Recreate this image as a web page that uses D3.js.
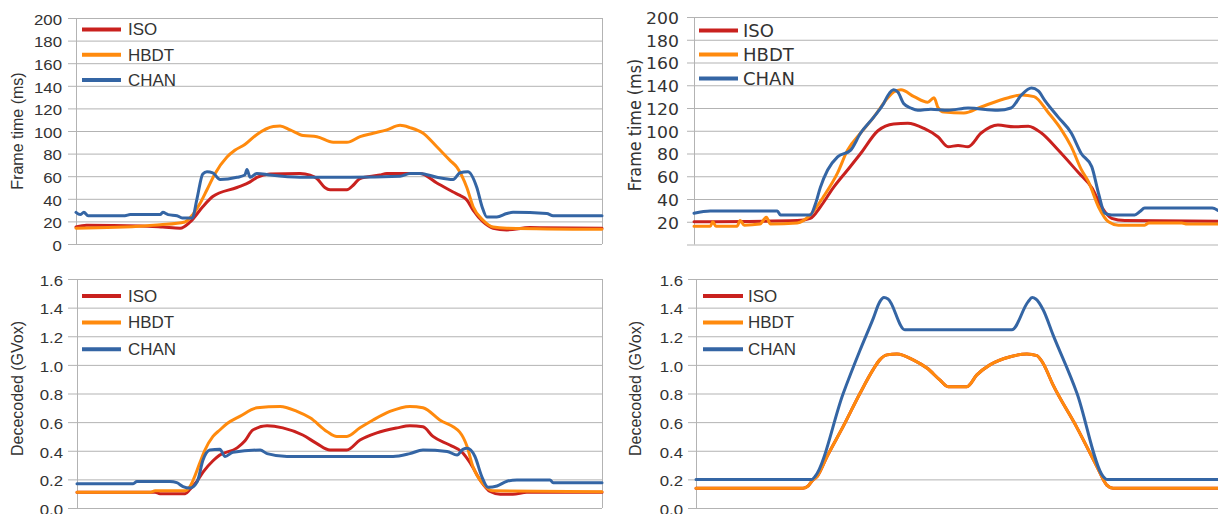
<!DOCTYPE html>
<html>
<head>
<meta charset="utf-8">
<script src="https://cdn.jsdelivr.net/npm/d3@7.9.0/dist/d3.min.js"></script>
<style>
  html, body { margin: 0; padding: 0; background: #fff; }
  svg { display: block; }
</style>
</head>
<body>
<svg id="chart" width="1218" height="514"></svg>
<script>
// ── Data: [progress through the run (%), value] ─────────────────────────────

const seriesNames = ['ISO', 'HBDT', 'CHAN'];
const seriesColors = ['#c9211e', '#ff8a0d', '#3465a4'];

const frameTicks = [0, 20, 40, 60, 80, 100, 120, 140, 160, 180, 200];
const decodedTicks = [0, 0.2, 0.4, 0.6, 0.8, 1.0, 1.2, 1.4, 1.6];

// frame time (ms), left run
const frameLeftISO = [[0,15],[2,16.5],[12.2,16],[16.5,15],[19.8,14],[21.7,19.5],[24.1,33],[26,42],[30.6,50],[33.1,55],[34.4,59],[36.9,62],[42.6,62.5],[44.5,61],[45.8,58],[47.3,50],[48.3,48],[51.5,48],[52.7,52],[54,58],[57.8,61],[59.1,62.5],[65.4,62.5],[68.6,54],[71.7,46],[73,43],[74.3,39],[75.5,30],[77.4,19.5],[79.3,14],[81.9,12.5],[86.3,14.5],[100,14]];
const frameLeftHBDT = [[0,14],[13.1,16],[16,17],[20.7,19.5],[22.2,26],[23.6,36],[24.9,48],[26.4,62],[28.7,77],[30.2,83],[32.1,88],[34.4,97],[37.5,104],[38.8,104.5],[40.7,101],[43.2,96],[45.8,95],[48.9,90],[51.5,90],[54,95],[56.5,98],[59.1,101],[61.6,105],[63.5,103],[66,98],[68.6,86],[71.1,74],[72.4,68],[74.3,50],[75.5,33],[77.4,21],[79.3,15],[81.9,14],[100,13]];
const frameLeftCHAN = [[0,28],[0.8,26],[1.5,28],[2.3,25],[9.3,25],[10.3,26],[16,26],[16.5,28],[17.5,26],[19.2,25],[20.2,23],[22.1,23],[23,40],[24.1,62],[24.9,64],[26,63],[27.4,57],[30.6,59],[32.1,61],[32.5,66],[33.1,59],[34.4,62.5],[36.9,61],[42.6,59],[52.1,59],[61.6,60],[63.5,62.5],[65.4,62.5],[68.6,59],[71.7,57],[73,63],[74.5,64],[76.2,50],[77.2,33],[78.1,24],[80,24],[81.9,27],[83.1,28],[89.5,27],[90.7,25],[100,25]];

// frame time (ms), right run
const frameRightISO = [[0,20],[19.7,21],[22.2,23],[24.1,33],[26.6,50],[29.3,65.5],[31.8,80],[35.1,100],[38.1,106],[40.8,106.5],[43.9,102],[46.6,94.5],[48.5,86],[50.4,87],[52.3,86],[54.8,98],[58,105],[61.1,103.5],[63.8,104],[66.3,98],[69.5,83],[73.4,63],[75.9,50],[77.8,33],[79.7,23],[82.2,21],[100,20.5]];
const frameRightHBDT = [[0,16],[3.1,16],[3.6,20],[4.2,16],[8.2,16],[8.8,21],[9.6,17],[12.6,18],[13.8,24],[14.6,18],[19.7,19],[22.2,26],[24.7,42],[27.4,63],[29.3,83],[31.8,98],[34.3,112],[37,129],[38.1,134],[39.5,136],[42,130],[44.6,125],[45.8,129],[46.6,120],[47.7,116.5],[51.5,115.5],[54.8,121],[60,129],[62.5,131.5],[64.9,130],[67.6,116],[70.1,101],[72,86],[73.9,66],[75.3,55],[77.2,33],[79.1,20],[81,17],[86,17],[86.8,19],[93.1,19],[94.1,18],[100,18]];
const frameRightCHAN = [[0,27.5],[3.1,29.5],[15.9,29.5],[16.5,26],[22.2,26],[23.2,36],[24.1,50],[25.5,65.5],[27.4,77],[29.9,83],[31.8,98],[34.3,112],[36.2,124],[37,131],[38.1,136],[38.9,134],[40,124],[41.4,120],[42.7,118],[45.2,119],[48.5,118],[52.3,120],[58,118],[60.5,120],[62.5,131.5],[64.4,137.5],[65.7,135],[66.9,127],[69.5,112],[72,98],[73.9,80],[75.9,68.5],[77.2,45],[78.4,27.6],[79.7,26],[84.1,26],[85.1,29],[86,32],[98.9,32],[100,30]];

// decoded volume (GVox), left run
const decodedLeftISO = [[0,0.11],[14.9,0.11],[15.8,0.10],[20.6,0.10],[21.5,0.13],[22.9,0.19],[24,0.25],[25.9,0.33],[27.2,0.37],[30.5,0.42],[32,0.47],[33.5,0.545],[36.2,0.575],[39.2,0.56],[43,0.51],[45.7,0.45],[48.2,0.405],[51.4,0.405],[53.9,0.475],[57.1,0.525],[61,0.56],[63.4,0.575],[65.9,0.567],[67.8,0.5],[71,0.44],[73.5,0.385],[74.9,0.315],[76.8,0.195],[78.7,0.115],[80.6,0.096],[83,0.096],[85.7,0.11],[100,0.11]];
const decodedLeftHBDT = [[0,0.11],[13.9,0.11],[14.9,0.12],[20.6,0.12],[21.5,0.15],[23.4,0.315],[24.3,0.40],[25.9,0.5],[27.2,0.545],[28.6,0.59],[31,0.64],[34.3,0.7],[38.7,0.71],[41.9,0.675],[44.4,0.63],[47.6,0.535],[49.5,0.5],[51.4,0.5],[53.9,0.56],[56.4,0.615],[59.6,0.675],[63.4,0.71],[65.9,0.7],[69.1,0.615],[72.9,0.53],[74.3,0.43],[75.4,0.29],[77.3,0.17],[79.2,0.12],[100,0.114]];
const decodedLeftCHAN = [[0,0.17],[10.7,0.17],[11.4,0.185],[17.7,0.185],[19,0.177],[20.2,0.15],[21.5,0.14],[22.9,0.184],[24,0.335],[25.3,0.405],[27.2,0.41],[28.2,0.36],[29.7,0.39],[34.9,0.405],[36.2,0.38],[40,0.36],[60.2,0.36],[63.4,0.38],[65.9,0.405],[70.5,0.395],[72.4,0.37],[73.5,0.41],[74.3,0.417],[75.8,0.36],[77.1,0.22],[78.3,0.145],[80,0.154],[81.9,0.187],[83.8,0.196],[90.1,0.196],[90.7,0.177],[100,0.177]];

// decoded volume (GVox), right run
const decodedRightHBDT = [[0,0.138],[20.5,0.138],[21.5,0.155],[22.4,0.196],[23.2,0.22],[25.1,0.36],[28.2,0.57],[31.4,0.8],[33.9,0.965],[35.2,1.035],[36.6,1.07],[38.5,1.076],[41.6,1.035],[44.3,0.976],[46.7,0.895],[48.3,0.848],[51.9,0.848],[53.8,0.93],[56.3,1.0],[60.2,1.057],[63.4,1.076],[65.3,1.065],[66.5,1.01],[68.4,0.86],[73,0.56],[76.8,0.29],[78.7,0.16],[79.9,0.138],[100,0.138]];
// ISO is identical to HBDT here and is drawn underneath it
const decodedRightISO = decodedRightHBDT;
const decodedRightCHAN = [[0,0.2],[22.2,0.2],[22.8,0.22],[28.2,0.8],[31.4,1.1],[33.9,1.32],[35.2,1.44],[36,1.47],[36.8,1.46],[40,1.245],[60.5,1.245],[63.6,1.44],[64.4,1.47],[65.1,1.46],[66.5,1.385],[68.4,1.21],[73,0.8],[78,0.22],[78.7,0.2],[100,0.2]];

// ── Panels ───────────────────────────────────────────────────────────────────

const svg = d3.select('#chart');
const gridColor = '#b3b3b3';
const textColor = '#333';

const panels = [
  {
    series: [frameLeftISO, frameLeftHBDT, frameLeftCHAN],
    yMax: 200, ticks: frameTicks, format: (d) => d3.format('d')(d),
    title: 'Frame time (ms)', font: 'Liberation Sans',
    left: 76, right: 602, top: 18, bottom: 244, tick: 8, pad: 5.4,
    tickFont: 15, tickSx: 1.12, rightBorder: true,
    titleX: 23, titleY: 131, titleFont: 16,
    legend: { x0: 82, x1: 121, tx: 128, y: 29.5, dy: 25.3, size: 16, sx: 1.06 },
  },
  {
    series: [frameRightISO, frameRightHBDT, frameRightCHAN],
    yMax: 200, ticks: frameTicks, format: (d) => (d === 0 ? '' : d3.format('d')(d)),
    title: 'Frame time (ms)', font: 'DejaVu Sans',
    left: 694, right: 1218, top: 17, bottom: 244.5, tick: 7, pad: 7,
    tickFont: 15, tickSx: 1.15, rightBorder: false,
    titleX: 641, titleY: 125, titleFont: 16,
    legend: { x0: 699, x1: 738, tx: 743, y: 30.5, dy: 24, size: 17, sx: 1.06 },
  },
  {
    series: [decodedLeftISO, decodedLeftHBDT, decodedLeftCHAN],
    yMax: 1.6, ticks: decodedTicks, format: d3.format('.1f'),
    title: 'Dececoded (GVox)', font: 'Liberation Sans',
    left: 77, right: 602, top: 279, bottom: 508, tick: 9, pad: 4.5,
    tickFont: 15, tickSx: 1.12, rightBorder: true,
    titleX: 23, titleY: 388.5, titleFont: 16,
    legend: { x0: 82, x1: 121, tx: 128, y: 296, dy: 26.6, size: 16, sx: 1.06 },
  },
  {
    series: [decodedRightISO, decodedRightHBDT, decodedRightCHAN],
    yMax: 1.6, ticks: decodedTicks, format: d3.format('.1f'),
    title: 'Dececoded (GVox)', font: 'Liberation Sans',
    left: 696, right: 1218, top: 279, bottom: 508, tick: 8, pad: 4.5,
    tickFont: 15, tickSx: 1.12, rightBorder: false,
    titleX: 641, titleY: 388.5, titleFont: 16,
    legend: { x0: 703, x1: 743, tx: 748, y: 296, dy: 26.6, size: 16, sx: 1.06 },
  },
];

function drawPanel(p) {
  const g = svg.append('g').style('font-family', `'${p.font}', sans-serif`);

  const x = d3.scaleLinear().domain([0, 100]).range([p.left, p.right]);
  const y = d3.scaleLinear().domain([0, p.yMax]).range([p.bottom, p.top]);

  // gridlines + tick labels in one axis (ticks stick out left of the plot)
  const axis = d3
    .axisLeft(y)
    .tickValues(p.ticks)
    .tickFormat(p.format)
    .tickSizeInner(-(p.right - p.left + p.tick))
    .tickSizeOuter(0)
    .tickPadding(p.pad);

  const ag = g
    .append('g')
    .attr('transform', `translate(${p.left - p.tick},0)`)
    .call(axis)
    .attr('font-family', null)
    .attr('font-size', null);
  ag.select('.domain').remove();
  ag.selectAll('.tick line').attr('stroke', gridColor);
  ag.selectAll('.tick text')
    .attr('fill', textColor)
    .attr('dy', '0.42em')
    .attr('transform', `scale(${p.tickSx},1)`)
    .style('font-size', p.tickFont + 'px');

  // y axis line and right border
  const xl = Math.round(p.left) + 0.5;
  g.append('line')
    .attr('x1', xl).attr('x2', xl)
    .attr('y1', y(p.yMax)).attr('y2', y(0))
    .attr('stroke', gridColor);
  if (p.rightBorder) {
    const xr = Math.round(p.right) + 0.5;
    g.append('line')
      .attr('x1', xr).attr('x2', xr)
      .attr('y1', y(p.yMax)).attr('y2', y(0))
      .attr('stroke', gridColor);
  }

  // axis title
  g.append('text')
    .attr('transform', `translate(${p.titleX},${p.titleY}) scale(1.08,1) rotate(-90)`)
    .attr('text-anchor', 'middle')
    .attr('fill', textColor)
    .style('font-size', p.titleFont + 'px')
    .text(p.title);

  // series lines
  const line = d3
    .line()
    .x((d) => x(d[0]))
    .y((d) => y(d[1]))
    .curve(d3.curveMonotoneX);

  g.append('g')
    .selectAll('path')
    .data(p.series)
    .join('path')
    .attr('d', line)
    .attr('fill', 'none')
    .attr('stroke', (d, i) => seriesColors[i])
    .attr('stroke-width', 3)
    .attr('stroke-linejoin', 'round')
    .attr('stroke-linecap', 'round');

  // legend
  const L = p.legend;
  const lg = g.append('g');
  const items = lg
    .selectAll('g')
    .data(seriesNames)
    .join('g')
    .attr('transform', (d, i) => `translate(0,${L.y + i * L.dy})`);
  items
    .append('line')
    .attr('x1', L.x0).attr('x2', L.x1)
    .attr('stroke', (d, i) => seriesColors[i])
    .attr('stroke-width', 4);
  items
    .append('text')
    .attr('transform', `translate(${L.tx},0) scale(${L.sx},1)`)
    .attr('dy', '0.36em')
    .attr('fill', textColor)
    .style('font-size', L.size + 'px')
    .text((d) => d);
}

panels.forEach(drawPanel);
</script>
</body>
</html>
